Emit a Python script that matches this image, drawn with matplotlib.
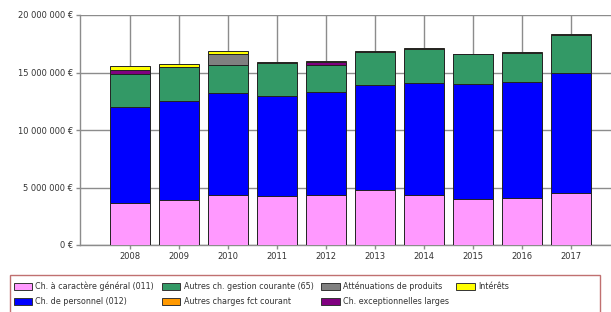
import matplotlib
matplotlib.use("Agg")
import matplotlib.pyplot as plt
from matplotlib.patches import Patch, Rectangle
import numpy as np

# --- DATA (euros) ---
years = ["2008", "2009", "2010", "2011", "2012", "2013", "2014", "2015", "2016", "2017"]

ch_general = [3650000, 3940000, 4370000, 4290000, 4370000, 4750000, 4370000, 3970000, 4090000, 4490000]
ch_personnel = [8350000, 8550000, 8810000, 8690000, 8960000, 9190000, 9720000, 10030000, 10080000, 10430000]
autres_gestion = [2900000, 2960000, 2500000, 2820000, 2320000, 2840000, 2950000, 2570000, 2530000, 3370000]
autres_fct = [0, 0, 0, 0, 0, 0, 0, 0, 0, 0]
attenuations = [0, 0, 960000, 0, 0, 0, 0, 0, 0, 0]
exceptionnelles = [290000, 0, 0, 40000, 290000, 0, 0, 0, 0, 0]
interets = [410000, 300000, 200000, 60000, 60000, 60000, 60000, 60000, 100000, 100000]

series = [
    ("Ch. à caractère général (011)", ch_general, "#FF99FF"),
    ("Ch. de personnel (012)", ch_personnel, "#0000FF"),
    ("Autres ch. gestion courante (65)", autres_gestion, "#339966"),
    ("Autres charges fct courant", autres_fct, "#FF9900"),
    ("Atténuations de produits", attenuations, "#808080"),
    ("Ch. exceptionnelles larges", exceptionnelles, "#800080"),
    ("Intérêts", interets, "#FFFF00"),
]

yticks = [0, 5000000, 10000000, 15000000, 20000000]
ytick_labels = ["0 €", "5 000 000 €", "10 000 000 €", "15 000 000 €", "20 000 000 €"]

# --- FIGURE ---
W, H = 611, 312
fig = plt.figure(figsize=(W / 100, H / 100), dpi=100)
ax = fig.add_axes([80 / W, 67 / H, 540 / W, 230 / H])

x = np.arange(len(years))
bottom = np.zeros(len(years))
for label, values, color in series:
    vals = np.array(values, dtype=float)
    ax.bar(x, vals, width=0.8, bottom=bottom, color=color,
           edgecolor="#222222", linewidth=0.7, zorder=3)
    bottom += vals

grid_color = "#8c8c8c"
ax.set_xlim(-1.02, 10.0)
ax.set_ylim(0, 20000000)
ax.set_yticks(yticks)
ax.set_yticklabels(ytick_labels)
ax.set_xticks(x)
ax.set_xticklabels(years)
ax.grid(True, axis="both", color=grid_color, linewidth=1.0, zorder=0)
ax.set_axisbelow(True)

for side in ["top", "right"]:
    ax.spines[side].set_visible(False)
for side in ["left", "bottom"]:
    ax.spines[side].set_color(grid_color)
    ax.spines[side].set_linewidth(1.0)

ax.tick_params(axis="both", colors=grid_color, labelcolor="#333333",
               labelsize=6, length=3, width=1.0, pad=2)

# legend box
fig.patches.append(Rectangle((10 / W, -10 / H), 590 / W, (37 + 10) / H,
                             transform=fig.transFigure, fill=False,
                             edgecolor="#C07070", linewidth=1.0))

handles = [Patch(facecolor=c, edgecolor="#333333", linewidth=0.7, label=l)
           for l, _, c in series]
fig.legend(handles=handles, loc="upper left", bbox_to_anchor=(12 / W, 1 - 280 / H),
           ncol=4, frameon=False, fontsize=5.8, handlelength=2.3, handleheight=0.85,
           handletextpad=0.4, columnspacing=0.95, labelspacing=0.75,
           borderaxespad=0, borderpad=0.2, labelcolor="#333333")

fig.savefig("out.png", dpi=100)
